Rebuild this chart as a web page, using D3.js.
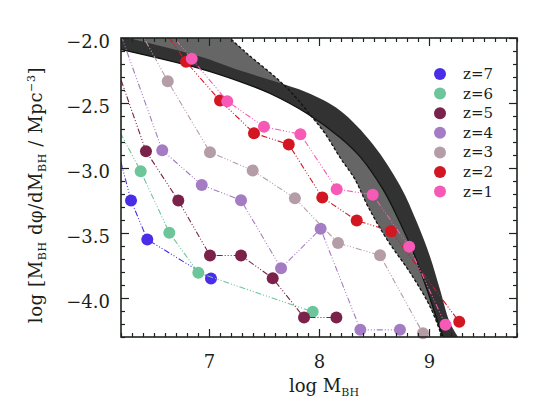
<!DOCTYPE html>
<html>
<head>
<meta charset="utf-8">
<script src="https://cdn.jsdelivr.net/npm/d3@7"></script>
<style>
body { margin: 0; background: #fff; }
svg text { font-family: "DejaVu Serif", serif; fill: #1a1f1a; }
</style>
</head>
<body>
<div id="chart"></div>
<script>
var width = 554, height = 415;
var plotL = 121, plotR = 517, plotT = 38, plotB = 337;

// series, one per redshift (first point of each sits off the frame: line only)
var labels = ["z=7", "z=6", "z=5", "z=4", "z=3", "z=2", "z=1"];
var colors = ["#4a2de6", "#6dc59a", "#7a2249", "#a47cc4", "#b59da8", "#d21622", "#f759b6"];

var massZ7 = [6.12, 6.291, 6.439, 7.018];
var phiZ7  = [-2.70, -3.25, -3.55, -3.85];
var massZ6 = [6.05, 6.379, 6.639, 6.903, 7.943];
var phiZ6  = [-2.50, -3.025, -3.498, -3.806, -4.106];
var massZ5 = [6.10, 6.427, 6.721, 7.009, 7.291, 7.579, 7.864, 8.158];
var phiZ5  = [-2.08, -2.871, -3.25, -3.673, -3.673, -3.848, -4.15, -4.15];
var massZ4 = [6.15, 6.575, 6.934, 7.291, 7.655, 8.015, 8.376, 8.736];
var phiZ4  = [-1.86, -2.863, -3.131, -3.248, -3.771, -3.468, -4.245, -4.245];
var massZ3 = [6.35, 6.625, 7.009, 7.397, 7.781, 8.173, 8.555, 8.945];
var phiZ3  = [-1.91, -2.332, -2.878, -3.019, -3.233, -3.577, -3.672, -4.271];
var massZ2 = [6.55, 6.791, 7.10, 7.409, 7.725, 8.03, 8.343, 8.655, 9.275];
var phiZ2  = [-1.89, -2.183, -2.481, -2.732, -2.819, -3.227, -3.404, -3.486, -4.183];
var massZ1 = [6.60, 6.843, 7.166, 7.50, 7.831, 8.161, 8.488, 8.82, 9.15];
var phiZ1  = [-1.915, -2.16, -2.486, -2.683, -2.74, -3.163, -3.205, -3.605, -4.206];

var massList = [massZ7, massZ6, massZ5, massZ4, massZ3, massZ2, massZ1];
var phiList = [phiZ7, phiZ6, phiZ5, phiZ4, phiZ3, phiZ2, phiZ1];

// dark band (local mass function)
var bandUpperM   = [6.10, 6.20, 6.918, 7.282, 7.60, 7.891, 8.191, 8.491, 8.736, 8.891, 9.009, 9.10, 9.191, 9.31];
var bandUpperPhi = [-1.97, -1.988, -2.142, -2.25, -2.335, -2.42, -2.558, -2.819, -3.135, -3.42, -3.681, -3.935, -4.19, -4.36];
var bandLowerM   = [6.10, 6.20, 6.918, 7.282, 7.555, 7.891, 8.191, 8.373, 8.582, 8.736, 8.873, 8.982, 9.082, 9.155];
var bandLowerPhi = [-2.07, -2.088, -2.235, -2.335, -2.427, -2.581, -2.765, -2.912, -3.165, -3.419, -3.681, -3.935, -4.188, -4.36];

// grey band edge (dashed)
var grayEdgeM   = [7.136, 7.345, 7.618, 7.782, 7.918, 8.055, 8.191, 8.327, 8.445, 8.618, 8.827, 9.009, 9.118, 9.145];
var grayEdgePhi = [-1.958, -2.119, -2.312, -2.45, -2.588, -2.735, -2.919, -3.088, -3.296, -3.55, -3.804, -4.065, -4.296, -4.358];

var xMajor = [7, 8, 9];
var yMajor = [-2.0, -2.5, -3.0, -3.5, -4.0];

var svg = d3.select("#chart").append("svg")
    .attr("width", width)
    .attr("height", height);

var x = d3.scaleLinear().domain([6.2, 9.8]).range([plotL, plotR]);
var y = d3.scaleLinear().domain([-4.3, -2.0]).range([plotB, plotT]);

svg.append("clipPath").attr("id", "plotclip")
  .append("rect")
    .attr("x", plotL).attr("y", plotT)
    .attr("width", plotR - plotL).attr("height", plotB - plotT);

var plot = svg.append("g").attr("clip-path", "url(#plotclip)");

function pts(ms, ps) { return ms.map(function(m, i) { return [m, ps[i]]; }); }

var smooth = d3.line()
    .x(function(d) { return x(d[0]); })
    .y(function(d) { return y(d[1]); })
    .curve(d3.curveCatmullRom);

var upper = pts(bandUpperM, bandUpperPhi);
var lower = pts(bandLowerM, bandLowerPhi);
var edge = pts(grayEdgeM, grayEdgePhi);

// grey band: between dashed edge and the lower edge of the dark band
var corner = [bandLowerM[0], grayEdgePhi[0]];
plot.append("path")
    .attr("d", smooth(edge) + smooth(lower.slice().reverse()).replace(/^M/, "L") +
        "L" + x(corner[0]) + "," + y(corner[1]) + "Z")
    .attr("fill", "#666666");

plot.append("path")
    .attr("d", smooth(upper) + smooth(lower.slice().reverse()).replace(/^M/, "L") + "Z")
    .attr("fill", "#323232");

plot.append("path")
    .attr("d", smooth(lower))
    .attr("fill", "none")
    .attr("stroke", "#0c140c")
    .attr("stroke-width", 1.3);

plot.append("path")
    .attr("d", smooth(edge))
    .attr("fill", "none")
    .attr("stroke", "#111")
    .attr("stroke-width", 1.3)
    .attr("stroke-dasharray", "3,2");

var line = d3.line()
    .x(function(d) { return x(d[0]); })
    .y(function(d) { return y(d[1]); });

var series = svg.append("g");

labels.forEach(function(lab, k) {
    var data = pts(massList[k], phiList[k]);
    var g = series.append("g");
    g.append("path")
        .attr("clip-path", "url(#plotclip)")
        .attr("d", line(data))
        .attr("fill", "none")
        .attr("stroke", colors[k])
        .attr("stroke-width", 1.1)
        .attr("stroke-dasharray", "6,2,1,2,1,2,1,2");
    var shown = data.filter(function(d) {
        return d[0] >= x.domain()[0] && d[1] <= y.domain()[1] && d[1] >= y.domain()[0];
    });
    g.selectAll("circle")
        .data(shown)
        .enter().append("circle")
        .attr("cx", function(d) { return x(d[0]); })
        .attr("cy", function(d) { return y(d[1]); })
        .attr("r", 6)
        .attr("fill", colors[k]);
});

// legend
var legend = svg.append("g").attr("transform", "translate(440,74)");
labels.forEach(function(lab, k) {
    legend.append("circle")
        .attr("cx", 0).attr("cy", k * 19.6)
        .attr("r", 6)
        .attr("fill", colors[k]);
    legend.append("text")
        .attr("x", 23).attr("y", k * 19.6 + 5)
        .attr("font-size", "15px")
        .text(lab);
});

// frame and ticks
var axes = svg.append("g");
var frameColor = "#1d241d";

function drawAxis(gen, tr, vals, size, fmt) {
    var g = axes.append("g").attr("transform", tr)
        .call(gen.tickValues(vals).tickSize(size).tickFormat(fmt));
    g.select(".domain").remove();
    g.selectAll("line").attr("stroke", frameColor).attr("stroke-width", 1.2);
    return g;
}

var xMinor = x.ticks(36).filter(function(v) { return xMajor.indexOf(Math.round(v * 10) / 10) < 0; });
var yMinor = y.ticks(23).filter(function(v) { return yMajor.indexOf(Math.round(v * 10) / 10) < 0; });
var none = function() { return ""; };

var gb = drawAxis(d3.axisBottom(x).tickPadding(18), "translate(0," + plotB + ")", xMajor, -8, d3.format("d"));
drawAxis(d3.axisBottom(x), "translate(0," + plotB + ")", xMinor, -4, none);
drawAxis(d3.axisTop(x), "translate(0," + plotT + ")", xMajor, -8, none);
drawAxis(d3.axisTop(x), "translate(0," + plotT + ")", xMinor, -4, none);
var gl = drawAxis(d3.axisLeft(y).tickPadding(11), "translate(" + plotL + ",0)", yMajor, -8, d3.format(".1f"));
drawAxis(d3.axisLeft(y), "translate(" + plotL + ",0)", yMinor, -4, none);
drawAxis(d3.axisRight(y), "translate(" + plotR + ",0)", yMajor, -8, none);
drawAxis(d3.axisRight(y), "translate(" + plotR + ",0)", yMinor, -4, none);

gb.selectAll("text").attr("font-size", "18px").attr("font-family", "DejaVu Serif").attr("fill", "#1a1f1a");
gl.selectAll("text").attr("font-size", "18px").attr("font-family", "DejaVu Serif").attr("fill", "#1a1f1a")
    .attr("dy", "0.55em");

axes.append("rect")
    .attr("x", plotL).attr("y", plotT)
    .attr("width", plotR - plotL).attr("height", plotB - plotT)
    .attr("fill", "none")
    .attr("stroke", frameColor)
    .attr("stroke-width", 1.6);

// axis titles
var xt = svg.append("text")
    .attr("x", (plotL + plotR) / 2 + 5).attr("y", 392)
    .attr("text-anchor", "middle")
    .attr("font-size", "18px");
xt.append("tspan").text("log  M");
xt.append("tspan").attr("font-size", "11px").attr("dy", 4).text("BH");

var yt = svg.append("text")
    .attr("transform", "translate(42,195) rotate(-90)")
    .attr("text-anchor", "middle")
    .attr("font-size", "18px")
    .attr("letter-spacing", "0.6px");
yt.append("tspan").text("log [M");
yt.append("tspan").attr("font-size", "11px").attr("dy", 4).text("BH");
yt.append("tspan").attr("dy", -4).text(" d\u03c6/dM");
yt.append("tspan").attr("font-size", "11px").attr("dy", 4).text("BH");
yt.append("tspan").attr("dy", -4).text("  /  Mpc");
yt.append("tspan").attr("font-size", "11px").attr("dy", -7).text("\u22123");
yt.append("tspan").attr("dy", 7).text("]");
</script>
</body>
</html>
